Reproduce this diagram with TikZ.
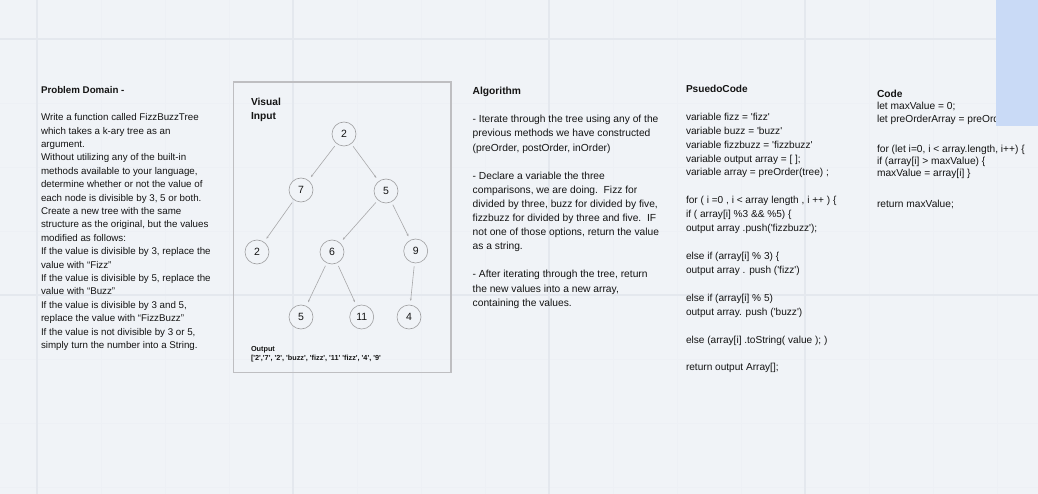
\documentclass[tikz,border=0pt]{standalone}
\usepackage{fontspec}
\setmainfont{Liberation Sans}[Ligatures=TeXOff]
\usetikzlibrary{arrows.meta}
\definecolor{bg}{RGB}{240,243,247}
\definecolor{gridmajor}{RGB}{228,232,238}
\definecolor{gridminor}{RGB}{237,240,245}
\definecolor{boxline}{RGB}{190,190,193}
\definecolor{nodeline}{RGB}{158,158,160}
\definecolor{edgecol}{RGB}{168,168,170}
\definecolor{bluepatch}{RGB}{201,218,246}
\definecolor{ink}{RGB}{20,20,20}
\begin{document}
\begin{tikzpicture}[x=1pt,y=-1pt,
  tnode/.style={circle, draw=nodeline, line width=0.6pt, fill=bg, minimum size=24pt, inner sep=0pt, text=ink, font=\fontsize{10.5}{12}\selectfont},
  tedge/.style={draw=edgecol, line width=0.6pt, shorten <=3pt, shorten >=4pt, -{Stealth[length=2.5pt,width=2pt]}},
  txt/.style={anchor=base west, inner sep=0pt, outer sep=0pt, text=ink}]
% background and grid
\fill[bg] (0,0) rectangle (1038,494);
\useasboundingbox (0,0) rectangle (1038,494);
\foreach \k in {0,...,17} {
  \draw[gridminor, line width=0.5pt] ({-27+64*\k},0) -- ({-27+64*\k},494);
}
\foreach \k in {0,...,8} {
  \draw[gridminor, line width=0.5pt] (0,{-25+64*\k}) -- (1038,{-25+64*\k});
}
\foreach \xx in {37,293,549,805} {
  \draw[gridmajor, line width=1.2pt] (\xx,0) -- (\xx,494);
}
\foreach \yy in {39,295} {
  \draw[gridmajor, line width=1.2pt] (0,\yy) -- (1038,\yy);
}

% Problem domain
\node[txt] (problem) at (41,94) {\parbox[t]{300pt}{\fontsize{9.75}{13.4}\selectfont
\textbf{Problem Domain -}\\
\mbox{}\\
Write a function called FizzBuzzTree\\
which takes a k-ary tree as an\\
argument.\\
Without utilizing any of the built-in\\
methods available to your language,\\
determine whether or not the value of\\
each node is divisible by 3, 5 or both.\\
Create a new tree with the same\\
structure as the original, but the values\\
modified as follows:\\
If the value is divisible by 3, replace the\\
value with “Fizz”\\
If the value is divisible by 5, replace the\\
value with “Buzz”\\
If the value is divisible by 3 and 5,\\
replace the value with “FizzBuzz”\\
If the value is not divisible by 3 or 5,\\
simply turn the number into a String.}};

% Visual input box
\draw[boxline, line width=1.2pt] (233.3,82) rectangle (451,372.3);
\node[txt] (visual) at (251,105.5) {\parbox[t]{100pt}{\fontsize{10.2}{14.3}\selectfont\bfseries Visual\\Input}};

\node[tnode] (n1) at (344,134) {2};
\node[tnode] (n2) at (301,190) {7};
\node[tnode] (n3) at (386,191) {5};
\node[tnode] (n4) at (257,252) {2};
\node[tnode] (n5) at (332,252) {6};
\node[tnode] (n6) at (415.7,251) {9};
\node[tnode] (n7) at (301,317) {5};
\node[tnode] (n8) at (361.7,317) {11};
\node[tnode] (n9) at (409,317) {4};
\draw[tedge] (n1) -- (n2);
\draw[tedge] (n1) -- (n3);
\draw[tedge] (n2) -- (n4);
\draw[tedge] (n3) -- (n5);
\draw[tedge] (n3) -- (n6);
\draw[tedge] (n5) -- (n7);
\draw[tedge] (n5) -- (n8);
\draw[tedge] (n6) -- (n9);

\node[txt] (output) at (251,351.5) {\parbox[t]{200pt}{\fontsize{7.3}{9}\selectfont\bfseries Output\\
\mbox{}['2','7', '2', 'buzz', 'fizz', '11' 'fizz', '4', '9'}};

% Algorithm
\node[txt] (algo) at (472.7,94.7) {\parbox[t]{300pt}{\fontsize{10.25}{14.1}\selectfont
\textbf{Algorithm}\\
\mbox{}\\
- Iterate through the tree using any of the\\
previous methods we have constructed\\
(preOrder, postOrder, inOrder)\\
\mbox{}\\
- Declare a variable the three\\
comparisons, we are doing.\ \ Fizz for\\
divided by three, buzz for divided by five,\\
fizzbuzz for divided by three and five.\ \ IF\\
not one of those options, return the value\\
as a string.\\
\mbox{}\\
- After iterating through the tree, return\\
the new values into a new array,\\
containing the values.}};

% Pseudocode
\node[txt] (pseudo) at (686,92.4) {\parbox[t]{300pt}{\fontsize{10.1}{13.93}\selectfont
\textbf{PsuedoCode}\\
\mbox{}\\
variable fizz = 'fizz'\\
variable buzz = 'buzz'\\
variable fizzbuzz = 'fizzbuzz'\\
variable output array = [ ];\\
variable array = preOrder(tree) ;\\
\mbox{}\\
for ( i =0 , i < array length , i ++ ) \{\\
if ( array[i] \%3 \&\& \%5) \{\\
output array .push('fizzbuzz');\\
\mbox{}\\
else if (array[i] \% 3) \{\\
output array . push ('fizz')\\
\mbox{}\\
else if (array[i] \% 5)\\
output array. push ('buzz')\\
\mbox{}\\
else (array[i] .toString( value ); )\\
\mbox{}\\
return output Array[];}};

% Code
\node[txt] (code) at (877,97.5) {\parbox[t]{300pt}{\fontsize{10.2}{12.3}\selectfont
\textbf{Code}\\
let maxValue = 0;\\
let preOrderArray = preOrd\\[17.7pt]
for (let i=0, i < array.length, i++) \{\\
if (array[i] > maxValue) \{\\
maxValue = array[i] \}\\[18.5pt]
return maxValue;}};

% blue patch on top
\fill[bluepatch] (996,0) rectangle (1038,126.5);
\end{tikzpicture}
\end{document}
